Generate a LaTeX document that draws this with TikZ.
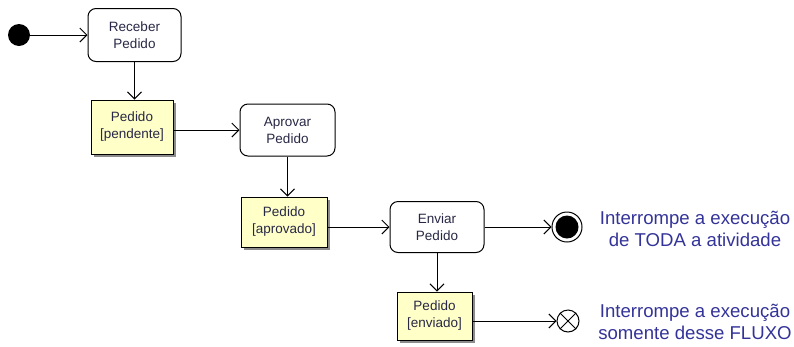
\documentclass[tikz,border=0pt]{standalone}
\usepackage{fontspec}
\setmainfont{Liberation Sans}
\usetikzlibrary{arrows.meta,shadows,shapes.misc}
\definecolor{objyellow}{RGB}{255,255,200}
\definecolor{notecol}{RGB}{51,51,153}
\definecolor{txtcol}{RGB}{40,40,70}
\begin{document}
\begin{tikzpicture}[x=1pt,y=-1pt,
  action/.style={draw, line width=1pt, rounded corners=8pt, fill=white, align=center, font=\fontsize{13.5}{17}\selectfont, text=txtcol, inner sep=0pt},
  object/.style={draw, line width=1pt, fill=objyellow, align=center, font=\fontsize{13.5}{17}\selectfont, text=txtcol, inner sep=0pt,
    drop shadow={shadow xshift=3pt, shadow yshift=-3pt, fill=black!45, opacity=1}},
  flow/.style={draw, line width=1pt, -{Straight Barb[length=7pt,width=14pt]}},
  note/.style={align=center, text=notecol, font=\fontsize{18.6}{22}\selectfont}
]
\useasboundingbox (0,0) rectangle (794,346);
\node[circle, fill=black, minimum size=22pt, inner sep=0pt] (start) at (19,35) {};
\node[action, minimum width=93pt, minimum height=53pt] (receber) at (134.5,35) {Receber\\Pedido};
\node[object, minimum width=82pt, minimum height=54pt] (pendente) at (132,127) {Pedido\\{[pendente]}};
\node[action, minimum width=95pt, minimum height=52pt] (aprovar) at (287.5,130) {Aprovar\\Pedido};
\node[object, minimum width=86pt, minimum height=50pt] (aprovado) at (284,222) {Pedido\\{[aprovado]}};
\node[action, minimum width=94pt, minimum height=51pt] (enviar) at (437,227) {Enviar\\Pedido};
\node[object, minimum width=75pt, minimum height=48pt] (enviado) at (434.5,316) {Pedido\\{[enviado]}};
\node[circle, draw, line width=1pt, minimum size=30pt, inner sep=0pt] (final) at (567,227) {};
\node[circle, fill=black, minimum size=23pt, inner sep=0pt] at (final) {};
\node[circle, draw, line width=1pt, minimum size=22pt, inner sep=0pt] (flowend) at (568,321) {};
\draw[line width=1pt] (flowend.north east) -- (flowend.south west) (flowend.north west) -- (flowend.south east);
\node[note] (n1) at (695,229) {Interrompe a execução\\de TODA a atividade};
\node[note] (n2) at (695,322) {Interrompe a execução\\somente desse FLUXO};
\draw[flow] (start) -- (receber.west);
\draw[flow] (receber.south) -- (receber.south |- pendente.north);
\draw[flow] (pendente.east |- aprovar.west) -- (aprovar.west);
\draw[flow] (aprovar.south) -- (aprovar.south |- aprovado.north);
\draw[flow] (aprovado.east |- enviar.west) -- (enviar.west);
\draw[flow] (enviar.east) -- (final.west);
\draw[flow] (enviar.south) -- (enviar.south |- enviado.north);
\draw[flow] (enviado.east |- flowend.west) -- (flowend.west);
\end{tikzpicture}
\end{document}
